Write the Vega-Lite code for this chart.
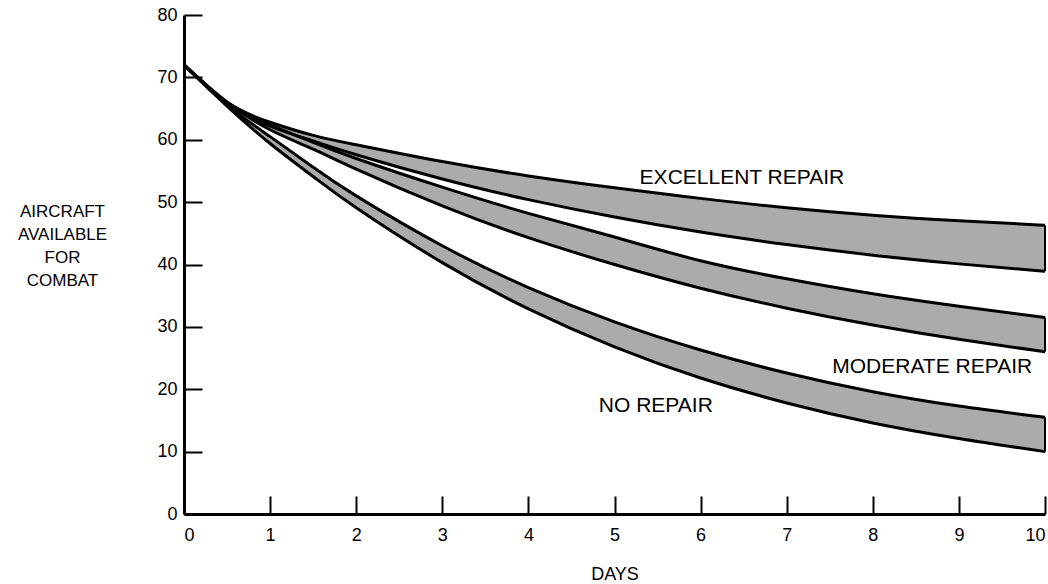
{
  "$schema": "https://vega.github.io/schema/vega-lite/v6.json",
  "width": 861,
  "height": 499,
  "autosize": "none",
  "padding": {"left": 184, "top": 15, "right": 3, "bottom": 70},
  "background": "white",
  "config": {"view": {"stroke": null}, "font": "Liberation Sans"},
  "datasets": {
    "bands": [
      {"day": 0, "band": "EX", "hi": 72, "lo": 72},
      {"day": 0.5, "band": "EX", "hi": 66.0, "lo": 66.0},
      {"day": 1, "band": "EX", "hi": 62.8, "lo": 62.2},
      {"day": 1.5, "band": "EX", "hi": 60.7, "lo": 59.8},
      {"day": 2, "band": "EX", "hi": 59.2, "lo": 57.6},
      {"day": 3, "band": "EX", "hi": 56.5, "lo": 53.7},
      {"day": 4, "band": "EX", "hi": 54.2, "lo": 50.4},
      {"day": 5, "band": "EX", "hi": 52.3, "lo": 47.6},
      {"day": 6, "band": "EX", "hi": 50.6, "lo": 45.2},
      {"day": 7, "band": "EX", "hi": 49.1, "lo": 43.2},
      {"day": 8, "band": "EX", "hi": 47.9, "lo": 41.5},
      {"day": 9, "band": "EX", "hi": 47.0, "lo": 40.1},
      {"day": 10, "band": "EX", "hi": 46.3, "lo": 38.9},
      {"day": 0, "band": "MOD", "hi": 72, "lo": 72},
      {"day": 0.5, "band": "MOD", "hi": 66.0, "lo": 66.0},
      {"day": 1, "band": "MOD", "hi": 62.4, "lo": 61.6},
      {"day": 1.5, "band": "MOD", "hi": 59.6, "lo": 58.5},
      {"day": 2, "band": "MOD", "hi": 57.0, "lo": 55.3},
      {"day": 3, "band": "MOD", "hi": 52.4, "lo": 49.4},
      {"day": 4, "band": "MOD", "hi": 48.2, "lo": 44.3},
      {"day": 5, "band": "MOD", "hi": 44.4, "lo": 40.0},
      {"day": 6, "band": "MOD", "hi": 40.6, "lo": 36.2},
      {"day": 7, "band": "MOD", "hi": 37.7, "lo": 33.0},
      {"day": 8, "band": "MOD", "hi": 35.3, "lo": 30.3},
      {"day": 9, "band": "MOD", "hi": 33.3, "lo": 28.0},
      {"day": 10, "band": "MOD", "hi": 31.5, "lo": 26.0},
      {"day": 0, "band": "NR", "hi": 72, "lo": 72},
      {"day": 0.5, "band": "NR", "hi": 65.6, "lo": 65.4},
      {"day": 1, "band": "NR", "hi": 60.5, "lo": 59.4},
      {"day": 1.5, "band": "NR", "hi": 55.6, "lo": 54.1},
      {"day": 2, "band": "NR", "hi": 51.0, "lo": 49.1},
      {"day": 3, "band": "NR", "hi": 43.0, "lo": 40.3},
      {"day": 4, "band": "NR", "hi": 36.3, "lo": 32.9},
      {"day": 5, "band": "NR", "hi": 30.8, "lo": 26.8},
      {"day": 6, "band": "NR", "hi": 26.3, "lo": 21.8},
      {"day": 7, "band": "NR", "hi": 22.6, "lo": 17.8},
      {"day": 8, "band": "NR", "hi": 19.6, "lo": 14.6},
      {"day": 9, "band": "NR", "hi": 17.3, "lo": 12.1},
      {"day": 10, "band": "NR", "hi": 15.5, "lo": 10.0}
    ],
    "labels": [
      {"day": 6.48, "value": 53.8, "text": "EXCELLENT REPAIR"},
      {"day": 8.69, "value": 23.6, "text": "MODERATE REPAIR"},
      {"day": 5.48, "value": 17.3, "text": "NO REPAIR"}
    ]
  },
  "layer": [
    {
      "data": {"name": "bands"},
      "mark": {"type": "area", "interpolate": "natural", "color": "#ababab"},
      "encoding": {
        "x": {
          "field": "day", "type": "quantitative",
          "scale": {"domain": [0, 10], "nice": false, "zero": false},
          "axis": {
            "title": "DAYS",
            "values": [0, 1, 2, 3, 4, 5, 6, 7, 8, 9, 10],
            "format": "d",
            "grid": false,
            "tickSize": -18, "tickWidth": 2, "tickColor": "black",
            "domainWidth": 3, "domainColor": "black",
            "labelFontSize": 18, "labelColor": "black", "labelPadding": 39,
            "labelBaseline": "middle",
            "titleFontSize": 18, "titleFontWeight": "normal", "titleColor": "black",
            "titleY": 60, "titleBaseline": "middle"
          }
        },
        "y": {
          "field": "hi", "type": "quantitative",
          "scale": {"domain": [0, 80], "nice": false},
          "axis": {
            "title": ["AIRCRAFT", "AVAILABLE", "FOR", "COMBAT"],
            "values": [0, 10, 20, 30, 40, 50, 60, 70, 80],
            "format": "d",
            "grid": false,
            "tickSize": -18, "tickWidth": 2, "tickColor": "black",
            "domainWidth": 3, "domainColor": "black",
            "labelFontSize": 18, "labelColor": "black", "labelPadding": 25,
            "titleFontSize": 17, "titleFontWeight": "normal", "titleColor": "black",
            "titleAngle": 0, "titleAlign": "center", "titleBaseline": "middle",
            "titleX": -122, "titleY": 196, "titleLineHeight": 23
          }
        },
        "y2": {"field": "lo"},
        "detail": {"field": "band"}
      }
    },
    {
      "data": {"name": "bands"},
      "mark": {"type": "line", "interpolate": "natural", "color": "black", "strokeWidth": 3},
      "encoding": {
        "x": {"field": "day", "type": "quantitative"},
        "y": {"field": "hi", "type": "quantitative"},
        "detail": {"field": "band"}
      }
    },
    {
      "data": {"name": "bands"},
      "mark": {"type": "line", "interpolate": "natural", "color": "black", "strokeWidth": 3},
      "encoding": {
        "x": {"field": "day", "type": "quantitative"},
        "y": {"field": "lo", "type": "quantitative"},
        "detail": {"field": "band"}
      }
    },
    {
      "data": {"name": "bands"},
      "transform": [{"filter": "datum.day == 10"}],
      "mark": {"type": "rule", "color": "black", "strokeWidth": 2},
      "encoding": {
        "x": {"field": "day", "type": "quantitative"},
        "y": {"field": "lo", "type": "quantitative"},
        "y2": {"field": "hi"}
      }
    },
    {
      "data": {"name": "labels"},
      "mark": {"type": "text", "fontSize": 21, "color": "black", "align": "center", "baseline": "middle"},
      "encoding": {
        "x": {"field": "day", "type": "quantitative"},
        "y": {"field": "value", "type": "quantitative"},
        "text": {"field": "text"}
      }
    }
  ]
}
